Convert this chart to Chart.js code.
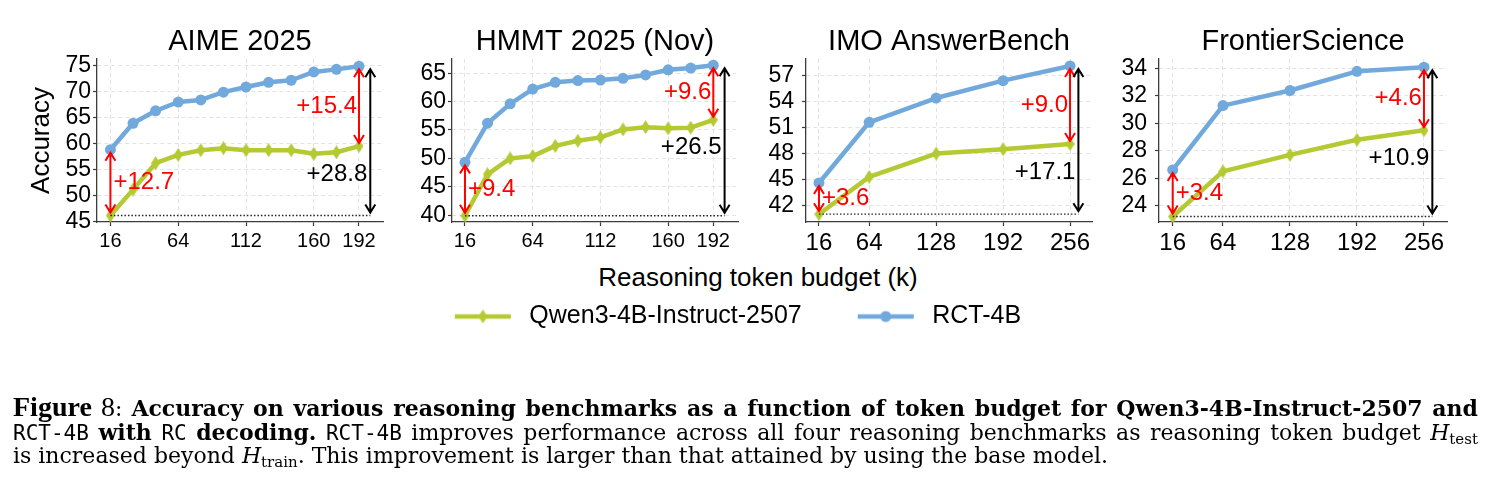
<!DOCTYPE html>
<html>
<head>
<meta charset="utf-8">
<script src="https://cdn.jsdelivr.net/npm/chart.js@4.4.1/dist/chart.umd.min.js"></script>
<style>
  body { margin: 0; background: #fff; width: 1492px; height: 484px; position: relative; overflow: hidden;
         font-family: "Liberation Sans", Arial, Helvetica, sans-serif; }
  canvas { position: absolute; }
  #xtitle { position: absolute; left: 0; width: 1516px; top: 262px; text-align: center; font-size: 26px; color: #000; }
  .cap { position: absolute; left: 13px; white-space: nowrap; font-family: "DejaVu Serif", serif;
         font-size: 22px; line-height: 24.5px; color: #000; display: inline-block; }
  .cap b { font-weight: bold; }
  .cap .fig { font-family: "Liberation Serif", serif; font-weight: bold; font-size: 28px; }
  .cap .num { font-family: "Liberation Serif", serif; font-size: 28px; }
  .cap .tt { font-family: "DejaVu Sans Mono", "Liberation Mono", monospace; font-size: 21px; }
  .cap i { font-style: italic; }
  .cap sub { font-size: 15px; vertical-align: -4px; line-height: 0; }
</style>
</head>
<body>
<canvas id="p0"></canvas>
<canvas id="p1"></canvas>
<canvas id="p2"></canvas>
<canvas id="p3"></canvas>
<div id="xtitle">Reasoning token budget (k)</div>
<canvas id="legend"></canvas>

<div class="cap" id="c1" style="top:394.5px"><span class="fig">Figure</span> <span class="num">8</span>: <b>Accuracy on various reasoning benchmarks as a function of token budget for Qwen3-4B-Instruct-2507 and</b></div>
<div class="cap" id="c2" style="top:420px"><span class="tt">RCT-4B</span> <b>with</b> <span class="tt">RC</span> <b>decoding.</b> <span class="tt">RCT-4B</span> improves performance across all four reasoning benchmarks as reasoning token budget <i>H</i><sub>test</sub></div>
<div class="cap" id="c3" style="top:444px">is increased beyond <i>H</i><sub>train</sub>. This improvement is larger than that attained by using the base model.</div>

<script>
// data
const seriesNames = ['Qwen3-4B-Instruct-2507', 'RCT-4B'];
const panelTitles = ['AIME 2025', 'HMMT 2025 (Nov)', 'IMO AnswerBench', 'FrontierScience'];

const budgetsFine = [16, 32, 48, 64, 80, 96, 112, 128, 144, 160, 176, 192];
const budgetsCoarse = [16, 64, 128, 192, 256];

const aimeQwen = [46.1, 51.1, 56.2, 57.8, 58.7, 59.1, 58.7, 58.7, 58.7, 58.0, 58.3, 59.5];
const aimeRct  = [58.8, 63.9, 66.3, 68.0, 68.4, 69.9, 70.9, 71.8, 72.2, 73.8, 74.3, 74.9];
const hmmtQwen = [39.9, 47.2, 50.0, 50.4, 52.2, 53.1, 53.7, 55.1, 55.5, 55.3, 55.4, 56.8];
const hmmtRct  = [49.3, 56.2, 59.6, 62.2, 63.4, 63.7, 63.8, 64.1, 64.7, 65.6, 65.9, 66.4];
const imoQwen  = [41.0, 45.3, 48.0, 48.5, 49.1];
const imoRct   = [44.6, 51.6, 54.4, 56.4, 58.1];
const fsQwen   = [23.2, 26.5, 27.7, 28.8, 29.5];
const fsRct    = [26.6, 31.3, 32.4, 33.8, 34.1];

// tick labels
const xTicksFine = [16, 64, 112, 160, 192];
const xTicksCoarse = [16, 64, 128, 192, 256];
const yTicksAime = [45, 50, 55, 60, 65, 70, 75];
const yTicksHmmt = [40, 45, 50, 55, 60, 65];
const yTicksImo = [42, 45, 48, 51, 54, 57];
const yTicksFs = [24, 26, 28, 30, 32, 34];

// axis limits
const xLimits = [[6.5, 209], [6.8, 209.5], [3.6, 277], [2.9, 278]];
const yLimits = [[44.85, 76.3], [38.8, 67.5], [40.1, 58.9], [22.8, 34.7]];

// layout (pixels)
const plotLeft = [97, 452, 806, 1159];
const plotRight = [383, 738, 1092, 1447];
const FONT = '"Liberation Sans", Arial, Helvetica, sans-serif';
const GREEN = '#b5c932';
const BLUE = '#72a9dd';
const RED = '#ff0000';
const AXIS = '#3c3c3c';
const GRID = '#e3e3e3';
const ARROW_GAP = 8; // black arrow sits this many k right of the last budget

Chart.defaults.color = '#000';
Chart.defaults.font.family = FONT;

function thinDiamond(w, h, color) {
  const c = document.createElement('canvas');
  c.width = w; c.height = h;
  const g = c.getContext('2d');
  g.fillStyle = color;
  g.beginPath();
  g.moveTo(w / 2, 0); g.lineTo(w, h / 2); g.lineTo(w / 2, h); g.lineTo(0, h / 2);
  g.closePath(); g.fill();
  return c;
}

// legend handle: blank lead-in (acts as spacing between entries), line with marker
function legendSymbol(color, marker) {
  const c = document.createElement('canvas');
  c.width = 108; c.height = 18;
  const g = c.getContext('2d');
  g.strokeStyle = color; g.lineWidth = 4.5;
  g.beginPath(); g.moveTo(46, 9); g.lineTo(102, 9); g.stroke();
  g.fillStyle = color;
  if (marker === 'diamond') {
    g.drawImage(thinDiamond(9, 14, color), 74 - 4.5, 2);
  } else {
    g.beginPath(); g.arc(74, 9, 5.5, 0, Math.PI * 2); g.fill();
  }
  return c;
}

const greenDiamond = thinDiamond(9, 14, GREEN);

function drawArrow(ctx, x, yLow, yHigh, color) {
  const s = 3, hl = 8, hw = 5;
  const b = yLow - s, t = yHigh + s;
  ctx.save();
  ctx.strokeStyle = color;
  ctx.lineWidth = 2;
  ctx.setLineDash([]);
  ctx.beginPath();
  ctx.moveTo(x, b); ctx.lineTo(x, t);
  ctx.moveTo(x - hw, t + hl); ctx.lineTo(x, t); ctx.lineTo(x + hw, t + hl);
  ctx.moveTo(x - hw, b - hl); ctx.lineTo(x, b); ctx.lineTo(x + hw, b - hl);
  ctx.stroke();
  ctx.restore();
}

function drawLabel(ctx, text, x, y, align, color) {
  ctx.save();
  ctx.font = '24px ' + FONT;
  ctx.fillStyle = color;
  ctx.textAlign = align;
  ctx.textBaseline = 'middle';
  ctx.fillText(text, x, y);
  ctx.restore();
}

// gain arrows: start gap, end gap, and total gain over the base model at 16k
const gainArrows = {
  id: 'gainArrows',
  afterDatasetsDraw(chart) {
    const { ctx, scales: { x, y } } = chart;
    const base = chart.data.datasets[0].data;
    const rct = chart.data.datasets[1].data;
    const b0 = base[0], bN = base[base.length - 1];
    const r0 = rct[0], rN = rct[rct.length - 1];
    const xa = x.getPixelForValue(b0.x);
    const xb = x.getPixelForValue(bN.x);
    const xc = x.getPixelForValue(bN.x + ARROW_GAP);
    const yb0 = y.getPixelForValue(b0.y), ybN = y.getPixelForValue(bN.y);
    const yr0 = y.getPixelForValue(r0.y), yrN = y.getPixelForValue(rN.y);

    ctx.save();
    ctx.strokeStyle = '#222';
    ctx.lineWidth = 1.3;
    ctx.setLineDash([1.5, 2]);
    ctx.beginPath(); ctx.moveTo(xa, yb0); ctx.lineTo(xc, yb0); ctx.stroke();
    ctx.restore();

    drawArrow(ctx, xa, yb0, yr0, RED);
    drawArrow(ctx, xb, ybN, yrN, RED);
    drawArrow(ctx, xc, yb0, yrN, '#000');

    drawLabel(ctx, '+' + (r0.y - b0.y).toFixed(1), xa + 3, (yb0 + yr0) / 2, 'left', RED);
    drawLabel(ctx, '+' + (rN.y - bN.y).toFixed(1), xb - 2, (ybN + yrN) / 2, 'right', RED);
    drawLabel(ctx, '+' + (rN.y - b0.y).toFixed(1), xc - 3, ybN + 28, 'right', '#000');
  }
};

const panels = [
  { xs: budgetsFine, qwen: aimeQwen, rct: aimeRct, xTicks: xTicksFine, yTicks: yTicksAime },
  { xs: budgetsFine, qwen: hmmtQwen, rct: hmmtRct, xTicks: xTicksFine, yTicks: yTicksHmmt },
  { xs: budgetsCoarse, qwen: imoQwen, rct: imoRct, xTicks: xTicksCoarse, yTicks: yTicksImo },
  { xs: budgetsCoarse, qwen: fsQwen, rct: fsRct, xTicks: xTicksCoarse, yTicks: yTicksFs }
];

panels.forEach((p, i) => {
  const yw = i === 0 ? 97 : 60;
  const rightPad = 26;
  const canvas = document.getElementById('p' + i);
  const w = yw + (plotRight[i] - plotLeft[i]) + rightPad;
  canvas.width = w; canvas.height = 262;
  canvas.style.left = (plotLeft[i] - yw) + 'px';
  canvas.style.top = '0px';
  canvas.style.width = w + 'px'; canvas.style.height = '262px';

  const xFont = i < 2 ? 20 : 24;

  new Chart(canvas, {
    type: 'line',
    data: {
      datasets: [
        {
          label: seriesNames[0],
          data: p.xs.map((v, k) => ({ x: v, y: p.qwen[k] })),
          borderColor: GREEN, backgroundColor: GREEN,
          borderWidth: 4.5, borderJoinStyle: 'round', borderCapStyle: 'round',
          pointStyle: greenDiamond, pointRadius: 6, pointBorderWidth: 0,
          tension: 0
        },
        {
          label: seriesNames[1],
          data: p.xs.map((v, k) => ({ x: v, y: p.rct[k] })),
          borderColor: BLUE, backgroundColor: BLUE,
          borderWidth: 4.5, borderJoinStyle: 'round', borderCapStyle: 'round',
          pointStyle: 'circle', pointRadius: 5.5, pointBorderWidth: 0,
          tension: 0
        }
      ]
    },
    options: {
      responsive: false,
      animation: false,
      devicePixelRatio: 1,
      layout: { padding: { left: 0, right: rightPad, top: 0, bottom: 0 } },
      plugins: {
        legend: { display: false },
        tooltip: { enabled: false },
        title: {
          display: true, text: panelTitles[i], color: '#000', fullSize: false,
          font: { size: 29, weight: 'normal', family: FONT, lineHeight: 1.2 },
          padding: { top: 24.2, bottom: 0 }
        }
      },
      scales: {
        x: {
          type: 'linear',
          min: xLimits[i][0], max: xLimits[i][1],
          afterBuildTicks: s => { s.ticks = p.xTicks.map(v => ({ value: v })); },
          afterFit: s => { s.height = 40; },
          ticks: { font: { size: xFont, family: FONT }, color: '#000', padding: 3, maxRotation: 0, autoSkip: false },
          grid: { color: GRID, lineWidth: 1, tickColor: AXIS, tickLength: 4, tickWidth: 1.2, tickBorderDash: [] },
          border: { color: AXIS, width: 1.3, dash: [4, 3] }
        },
        y: {
          min: yLimits[i][0], max: yLimits[i][1],
          afterBuildTicks: s => { s.ticks = p.yTicks.map(v => ({ value: v })); },
          afterFit: s => { s.width = yw; },
          ticks: { font: { size: 23, family: FONT }, color: '#000', padding: i < 2 ? 2 : 8, autoSkip: false },
          grid: { color: GRID, lineWidth: 1, tickColor: AXIS, tickLength: 4, tickWidth: 1.2, tickBorderDash: [] },
          border: { color: AXIS, width: 1.3, dash: [4, 3] },
          title: {
            display: i === 0, text: 'Accuracy', color: '#000',
            font: { size: 26, family: FONT }, padding: { top: 26, bottom: 0 }
          }
        }
      }
    },
    plugins: [gainArrows]
  });
});

// shared legend
const legendCanvas = document.getElementById('legend');
legendCanvas.width = 1492; legendCanvas.height = 200;
legendCanvas.style.left = '-31px'; legendCanvas.style.top = '293.5px';
legendCanvas.style.width = '1492px'; legendCanvas.style.height = '200px';
const legendSymbols = [legendSymbol(GREEN, 'diamond'), legendSymbol(BLUE, 'circle')];

new Chart(legendCanvas, {
  type: 'line',
  data: {
    datasets: seriesNames.map((name, i) => ({ label: name, data: [], borderColor: i ? BLUE : GREEN }))
  },
  options: {
    responsive: false,
    animation: false,
    devicePixelRatio: 1,
    scales: { x: { display: false }, y: { display: false } },
    plugins: {
      tooltip: { enabled: false },
      legend: {
        display: true,
        position: 'top',
        labels: {
          usePointStyle: true,
          pointStyleWidth: 108,
          padding: 10,
          font: { size: 25, family: FONT },
          color: '#000',
          generateLabels: () => seriesNames.map((name, i) => ({
            text: name, pointStyle: legendSymbols[i], fillStyle: i ? BLUE : GREEN,
            strokeStyle: i ? BLUE : GREEN, lineWidth: 0, hidden: false, datasetIndex: i, fontColor: '#000'
          }))
        }
      }
    }
  }
});

// caption: justify the first two lines to the text block width
function fitLine(id, target, grow) {
  const el = document.getElementById(id);
  el.style.wordSpacing = '0px';
  const spaces = (el.textContent.match(/ /g) || []).length;
  let natural = el.getBoundingClientRect().width;
  let size = parseFloat(getComputedStyle(el).fontSize);
  if (grow) {
    while (natural < target - spaces * 3 && size < 26) {
      size += 0.25;
      el.style.fontSize = size + 'px';
      natural = el.getBoundingClientRect().width;
    }
  }
  while (natural > target - 10 && size > 16) {
    size -= 0.25;
    el.style.fontSize = size + 'px';
    natural = el.getBoundingClientRect().width;
  }
  el.style.wordSpacing = ((target - natural) / spaces) + 'px';
}
fitLine('c1', 1465, true);
fitLine('c2', 1465, false);
</script>
</body>
</html>
